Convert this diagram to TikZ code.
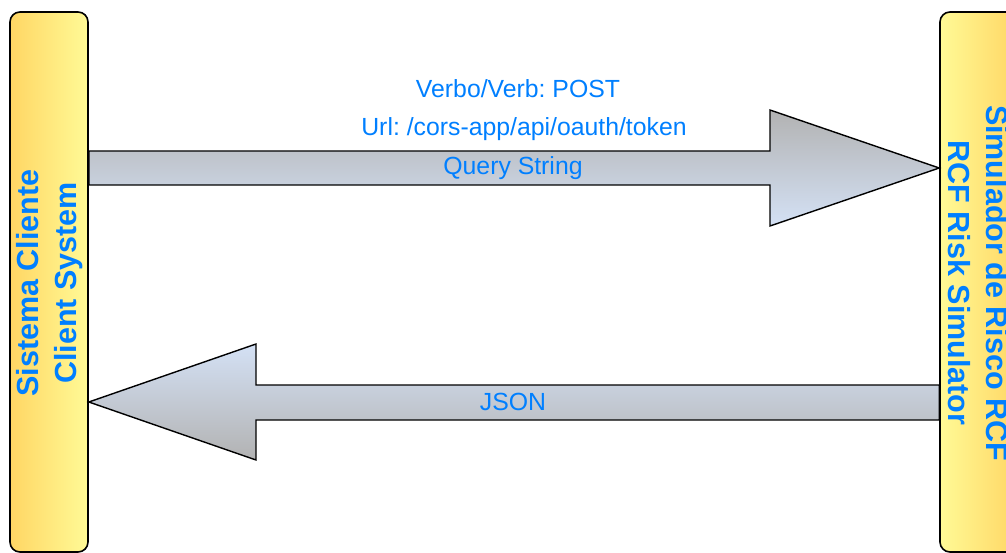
\documentclass[tikz,border=0pt]{standalone}
\usepackage{fontspec}
\setmainfont{Liberation Sans}
\usepackage{tikz}
\usetikzlibrary{positioning}
\frenchspacing

\definecolor{labelblue}{RGB}{0,127,255}
\definecolor{boxdark}{RGB}{255,214,100}
\definecolor{boxlight}{RGB}{255,250,150}
\definecolor{arrowgray}{RGB}{178,178,178}
\definecolor{arrowblue}{RGB}{212,225,245}

\tikzset{
    sysbox/.style={draw=black, line width=1.6pt, rounded corners=10pt,
        minimum width=78pt, minimum height=540pt, inner sep=0pt},
    systext/.style={text=labelblue, align=center,
        font=\fontsize{30.5}{38}\selectfont\bfseries},
    flowarrow/.style={draw=black, line width=1.4pt},
    flowtext/.style={text=labelblue, font=\fontsize{24.8}{29}\selectfont}
}

\begin{document}
\begin{tikzpicture}[x=1pt, y=-1pt]
    \useasboundingbox (0,0) rectangle (1006,553);
    \clip (0,0) rectangle (1006,553);
    \node[sysbox, left color=boxdark, right color=boxlight] (client) at (49,282) {};
    \node[sysbox, left color=boxlight, right color=boxdark] (simulator) at (979,282) {};
    \node[systext, rotate=90] (clientname) at (49.5,283) {Sistema Cliente\\Client System};
    \node[systext, rotate=-90] (simname) at (978,283) {Simulador de Risco RCF\\RCF Risk Simulator};
    % request
    \shade[flowarrow, top color=arrowgray, bottom color=arrowblue]
        (client.east |- 0,151) -- (770,151) -- (770,110) -- (simulator.west |- 0,168)
        -- (770,226) -- (770,185) -- (client.east |- 0,185) -- cycle;
    % response
    \shade[flowarrow, top color=arrowblue, bottom color=arrowgray]
        (simulator.west |- 0,385) -- (256,385) -- (256,344) -- (client.east |- 0,402)
        -- (256,460) -- (256,420) -- (simulator.west |- 0,420) -- cycle;
    \node[flowtext] (verb) at (518,89) {Verbo/Verb: POST};
    \node[flowtext] (url) at (524,129) {Url: /cors-app/api/oauth/token};
    \node[flowtext] (query) at (513,168) {Query String};
    \node[flowtext] (json) at (513,402) {JSON};
\end{tikzpicture}
\end{document}
